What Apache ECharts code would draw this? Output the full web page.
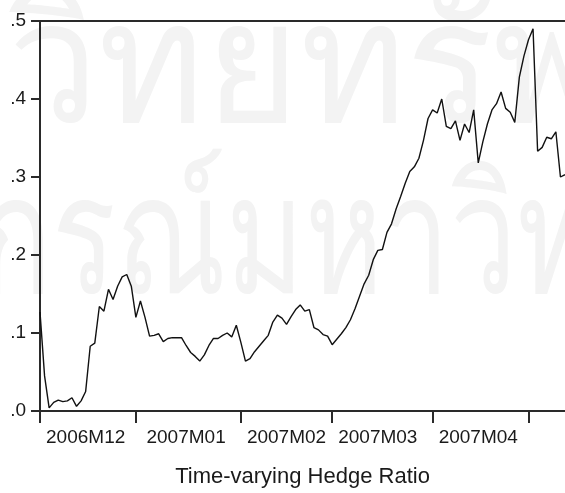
<!DOCTYPE html>
<html>
<head>
<meta charset="utf-8">
<script src="https://cdn.jsdelivr.net/npm/echarts@6/dist/echarts.min.js"></script>
<style>
  html, body { margin: 0; padding: 0; background: #fff; }
  #chart { width: 565px; height: 493px; }
</style>
</head>
<body>
<div id="chart"></div>
<script>
// month labels and number of observations (5-day weekly data) in each month
const monthLabels = ['2006M12', '2007M01', '2007M02', '2007M03', '2007M04', '2007M05']
const monthObs = [21, 23, 20, 22, 21, 9]
// where the month name sits inside each month (obs offset from month start)
const labelOffset = [10, 11, 10, 10, 10, -1]

const yTicks = [0, 0.1, 0.2, 0.3, 0.4, 0.5]

// time-varying hedge ratio
const hedgeRatio = [
  0.127, 0.045, 0.004, 0.011, 0.014, 0.012, 0.013, 0.017, 0.006, 0.013,
  0.025, 0.083, 0.087, 0.134, 0.128, 0.156, 0.143, 0.160, 0.172, 0.175,
  0.160, 0.120, 0.141, 0.120, 0.096, 0.097, 0.099, 0.089, 0.093, 0.094,
  0.094, 0.094, 0.084, 0.075, 0.070, 0.064, 0.072, 0.084, 0.093, 0.093,
  0.097, 0.100, 0.095, 0.110, 0.088, 0.064, 0.067, 0.076, 0.083, 0.090,
  0.097, 0.114, 0.123, 0.119, 0.111, 0.121, 0.130, 0.136, 0.128, 0.130,
  0.107, 0.104, 0.098, 0.096, 0.085, 0.092, 0.099, 0.107, 0.117, 0.131,
  0.147, 0.163, 0.174, 0.194, 0.206, 0.207, 0.229, 0.240, 0.259, 0.275,
  0.292, 0.307, 0.313, 0.324, 0.347, 0.375, 0.386, 0.382, 0.400, 0.365,
  0.362, 0.372, 0.347, 0.368, 0.357, 0.386, 0.318, 0.345, 0.368, 0.386,
  0.394, 0.409, 0.388, 0.383, 0.370, 0.428, 0.455, 0.476, 0.490, 0.333,
  0.338, 0.351, 0.349, 0.358, 0.300, 0.303
]

// build category list + tick / label index sets
const categories = []
const tickIdx = new Set()
const labelIdx = {}
let pos = 0
monthLabels.forEach((m, k) => {
  tickIdx.add(pos)
  if (labelOffset[k] >= 0) labelIdx[pos + labelOffset[k]] = m
  for (let d = 0; d < monthObs[k]; d++) {
    categories.push(m + '-' + (d + 1))
  }
  pos += monthObs[k]
})

const fontFamily = 'Arial, "Liberation Sans", sans-serif'
const axisColor = '#2a2a2a'

const chart = echarts.init(document.getElementById('chart'), null, { renderer: 'canvas' })

chart.setOption({
  backgroundColor: '#fff',
  animation: false,
  graphic: [
    // faint watermark behind the plot
    {
      type: 'text', z: -10, x: 8, y: -10, scaleX: 0.95, silent: true,
      style: { text: 'วิทยทรัพยากร', fontSize: 170, fill: '#f3f3f3', fontFamily: fontFamily }
    },
    {
      type: 'text', z: -10, x: -20, y: 165, scaleX: 0.72, silent: true,
      style: { text: 'กรณ์มหาวิทยาลัย', fontSize: 165, fill: '#f3f3f3', fontFamily: fontFamily }
    }
  ],
  grid: {
    left: 40,
    top: 21,
    right: -2,
    bottom: 77
  },
  xAxis: [
    {
      type: 'category',
      data: categories,
      boundaryGap: false,
      name: 'Time-varying Hedge Ratio',
      nameLocation: 'middle',
      nameGap: 55,
      nameTextStyle: { fontSize: 22, color: '#1a1a1a', fontFamily: fontFamily },
      axisLine: { lineStyle: { color: axisColor, width: 2 } },
      axisTick: {
        length: 12,
        interval: (idx) => tickIdx.has(idx),
        lineStyle: { color: axisColor, width: 2 }
      },
      axisLabel: {
        interval: (idx) => labelIdx[idx] !== undefined,
        formatter: (val, idx) => labelIdx[idx] || '',
        fontSize: 19,
        color: '#1a1a1a',
        fontFamily: fontFamily,
        margin: 17
      },
      splitLine: { show: false }
    },
    {
      // top frame line
      type: 'category',
      position: 'top',
      data: categories,
      boundaryGap: false,
      axisLine: { lineStyle: { color: axisColor, width: 2 } },
      axisTick: { show: false },
      axisLabel: { show: false }
    }
  ],
  yAxis: {
    type: 'value',
    min: 0,
    max: 0.5,
    interval: 0.1,
    axisLine: { show: true, lineStyle: { color: axisColor, width: 2 } },
    axisTick: { show: true, length: 9, lineStyle: { color: axisColor, width: 2 } },
    axisLabel: {
      formatter: (v) => v.toFixed(1).replace(/^0/, ''),
      fontSize: 19,
      color: '#1a1a1a',
      fontFamily: fontFamily,
      margin: 14
    },
    splitLine: { show: false }
  },
  series: [
    {
      type: 'line',
      data: hedgeRatio,
      showSymbol: false,
      symbol: 'none',
      lineStyle: { color: '#111', width: 1.4 },
      clip: false
    }
  ]
})
</script>
</body>
</html>
